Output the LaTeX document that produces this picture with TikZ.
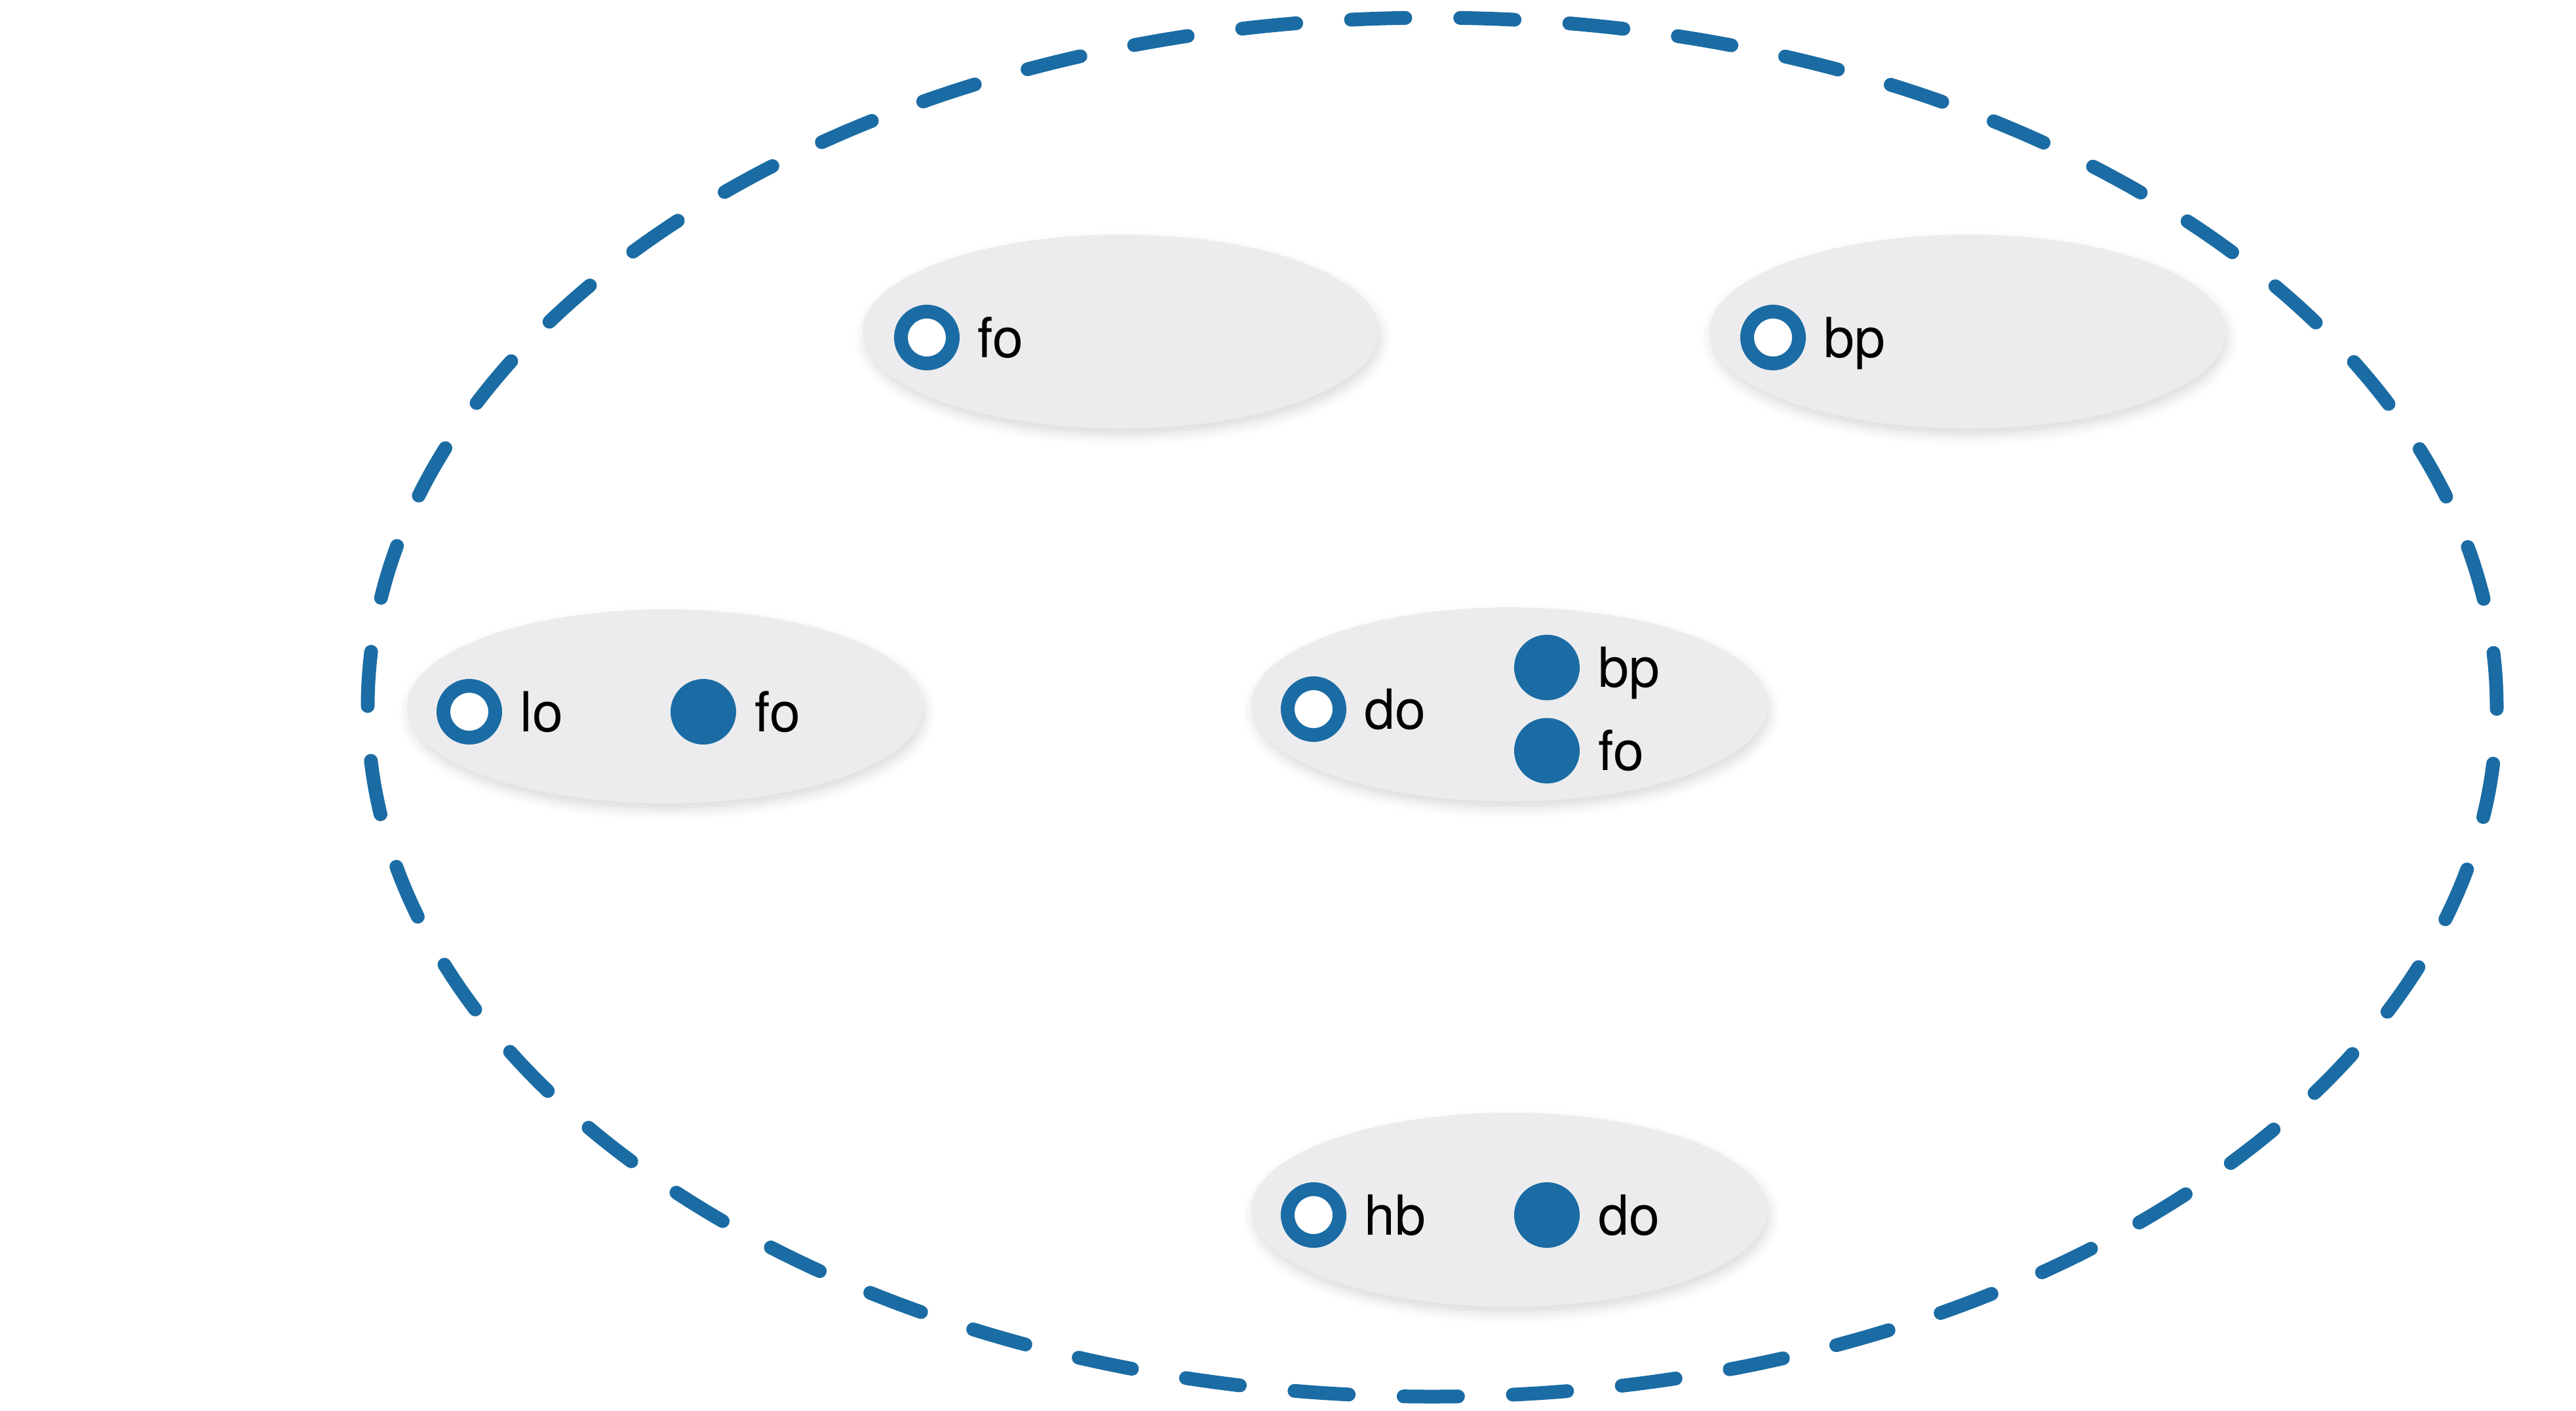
\documentclass[tikz,border=0pt]{standalone}
\usepackage{fontspec}
\setmainfont{TeX Gyre Heros}
\usepackage{xcolor}
\usepackage{tikz}
\usetikzlibrary{shapes.geometric,positioning,shadows.blur}

\definecolor{setblue}{HTML}{1B6CA4}
\definecolor{setgray}{HTML}{ECECEE}

\begin{document}
\begin{tikzpicture}[
    world/.style={ellipse, draw=setblue, line width=0.21cm, dash pattern=on 0.83cm off 0.837cm, line cap=round, minimum width=32.48cm, minimum height=21.04cm},
    group/.style={ellipse, fill=setgray, minimum width=7.88cm, minimum height=2.96cm, blur shadow={shadow xshift=0.03cm, shadow yshift=-0.1cm, shadow blur radius=0.16cm, shadow opacity=14}},
    ring/.style={circle, draw=setblue, line width=0.21cm, fill=white, minimum size=0.79cm, inner sep=0},
    dot/.style={circle, fill=setblue, minimum size=1cm, inner sep=0},
    lbl/.style={inner sep=0, text height=0.6cm, text depth=0cm, font=\fontsize{24pt}{28pt}\selectfont},
    node distance=0.27cm
]
    \useasboundingbox (0,0) rectangle (39.30,-21.52);

    % Outer set
    \node[world] (world) at (21.85,-10.79) {};

    % Groups
    \node[group] (g1) at (17.10,-5.06) {};
    \node[group] (g2) at (30.02,-5.06) {};
    \node[group] (g3) at (10.15,-10.78) {};
    \node[group] (g4) at (23.03,-10.75) {};
    \node[group] (g5) at (23.03,-18.46) {};

    % Top left
    \node[ring] (fo1) at ([xshift=-2.96cm, yshift=-0.09cm]g1.center) {};
    \node[lbl, right=of fo1] (fo1l) {fo};

    % Top right
    \node[ring] (bp1) at ([xshift=-2.97cm, yshift=-0.09cm]g2.center) {};
    \node[lbl, right=of bp1] (bp1l) {bp};

    % Middle left
    \node[ring] (lo) at ([xshift=-2.99cm, yshift=-0.08cm]g3.center) {};
    \node[lbl, right=of lo] (lol) {lo};
    \node[dot] (fo2) at ([xshift=0.58cm, yshift=-0.08cm]g3.center) {};
    \node[lbl, right=of fo2] (fo2l) {fo};

    % Middle
    \node[ring] (do1) at ([xshift=-2.99cm, yshift=-0.07cm]g4.center) {};
    \node[lbl, right=of do1] (do1l) {do};
    \node[dot] (bp2) at ([xshift=0.57cm, yshift=0.565cm]g4.center) {};
    \node[lbl, right=of bp2] (bp2l) {bp};
    \node[dot] (fo3) at ([xshift=0.57cm, yshift=-0.705cm]g4.center) {};
    \node[lbl, right=of fo3] (fo3l) {fo};

    % Bottom
    \node[ring] (hb) at ([xshift=-2.99cm, yshift=-0.08cm]g5.center) {};
    \node[lbl, right=of hb] (hbl) {hb};
    \node[dot] (do2) at ([xshift=0.57cm, yshift=-0.08cm]g5.center) {};
    \node[lbl, right=of do2] (do2l) {do};
\end{tikzpicture}
\end{document}
